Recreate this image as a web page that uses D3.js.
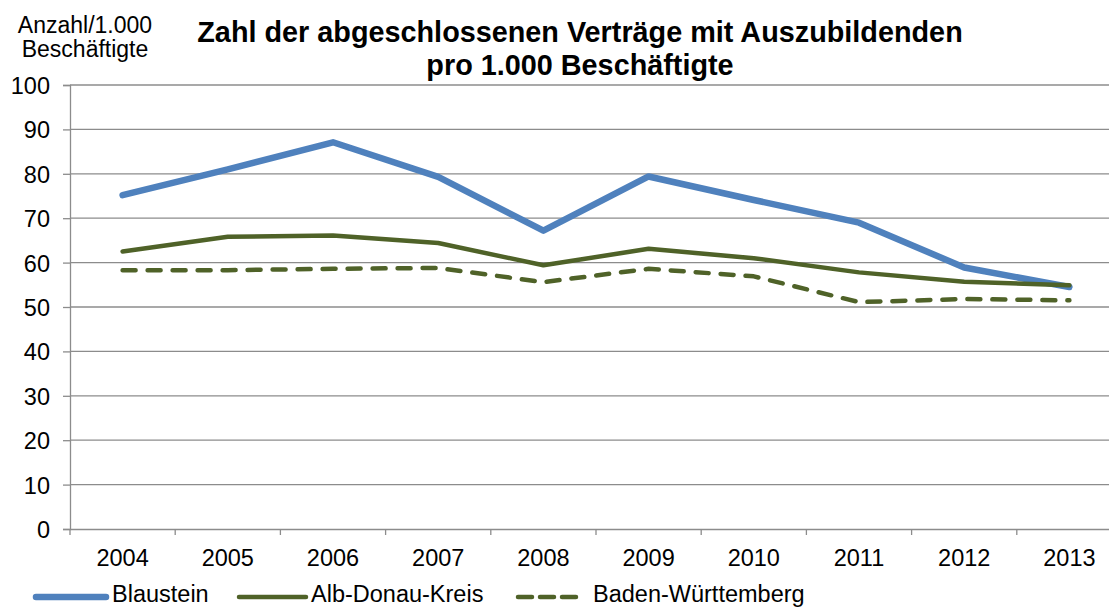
<!DOCTYPE html>
<html>
<head>
<meta charset="utf-8">
<script src="https://cdn.jsdelivr.net/npm/d3@7"></script>
<style>
  body { margin: 0; background: #fff; }
  text { font-family: "Liberation Sans", Arial, sans-serif; fill: #000; }
</style>
</head>
<body>
<svg id="chart" width="1109" height="608"></svg>
<script>
var years = ["2004", "2005", "2006", "2007", "2008", "2009", "2010", "2011", "2012", "2013"];
var blaustein = [75.2, 81.0, 87.1, 79.3, 67.2, 79.4, 74.1, 69.0, 58.9, 54.5];
var albDonau = [62.5, 65.8, 66.1, 64.4, 59.4, 63.1, 61.0, 57.8, 55.7, 54.9];
var badenW = [58.3, 58.3, 58.6, 58.8, 55.6, 58.6, 56.9, 51.1, 51.8, 51.5];
var yTicks = [0, 10, 20, 30, 40, 50, 60, 70, 80, 90, 100];

var series = [
  { name: "Blaustein", values: blaustein, color: "#4F81BD", width: 6.5, dash: null },
  { name: "Alb-Donau-Kreis", values: albDonau, color: "#4F6228", width: 4.5, dash: null },
  { name: "Baden-Württemberg", values: badenW, color: "#4F6228", width: 4.5, dash: "13,12" }
];

var svg = d3.select("#chart");
var margin = { top: 85, left: 70 };
var plotW = 1052, plotH = 444;

var g = svg.append("g").attr("transform", "translate(" + margin.left + "," + margin.top + ")");

var x = d3.scaleBand().domain(years).range([0, plotW]);
var y = d3.scaleLinear().domain([0, 100]).range([plotH, 0]);

// gridlines
g.append("g").selectAll("line")
  .data(yTicks.filter(function(d) { return d > 0; }))
  .enter().append("line")
  .attr("x1", 0).attr("x2", plotW)
  .attr("y1", function(d) { return y(d); })
  .attr("y2", function(d) { return y(d); })
  .attr("stroke", "#8c8c8c").attr("stroke-width", 1.3);

// y axis
var yAxis = g.append("g").call(d3.axisLeft(y).tickValues(yTicks).tickSize(7).tickPadding(13));
yAxis.select(".domain").attr("stroke", "#8c8c8c").attr("stroke-width", 1.3);
yAxis.selectAll(".tick line").attr("stroke", "#8c8c8c").attr("stroke-width", 1.3);
yAxis.selectAll("text").style("font-size", "23.5px").attr("dy", "0.36em")
  .style("font-family", "Liberation Sans, Arial, sans-serif").attr("fill", "#000");

// x axis
var xAxis = g.append("g").attr("transform", "translate(0," + plotH + ")")
  .call(d3.axisBottom(x).tickSize(0).tickPadding(20));
xAxis.select(".domain").attr("stroke", "#8c8c8c").attr("stroke-width", 1.3);
xAxis.selectAll("text").style("font-size", "23.5px")
  .style("font-family", "Liberation Sans, Arial, sans-serif").attr("fill", "#000");
xAxis.append("g").selectAll("line")
  .data(years)
  .enter().append("line")
  .attr("x1", function(d) { return x(d); })
  .attr("x2", function(d) { return x(d); })
  .attr("y1", 0).attr("y2", 6)
  .attr("stroke", "#8c8c8c").attr("stroke-width", 1.3);

// lines
var line = d3.line()
  .x(function(d, i) { return x(years[i]) + x.bandwidth() / 2; })
  .y(function(d) { return y(d); });

series.forEach(function(s) {
  g.append("path")
    .datum(s.values)
    .attr("d", line)
    .attr("fill", "none")
    .attr("stroke", s.color)
    .attr("stroke-width", s.width)
    .attr("stroke-linejoin", "round")
    .attr("stroke-linecap", "round")
    .attr("stroke-dasharray", s.dash);
});

// titles
svg.append("text").attr("x", 580).attr("y", 42).attr("text-anchor", "middle")
  .style("font-size", "28.8px").style("font-weight", "bold")
  .text("Zahl der abgeschlossenen Verträge mit Auszubildenden");
svg.append("text").attr("x", 580).attr("y", 75).attr("text-anchor", "middle")
  .style("font-size", "28.8px").style("font-weight", "bold")
  .text("pro 1.000 Beschäftigte");

svg.append("text").attr("x", 85).attr("y", 33).attr("text-anchor", "middle")
  .style("font-size", "23px").text("Anzahl/1.000");
svg.append("text").attr("x", 85).attr("y", 57).attr("text-anchor", "middle")
  .style("font-size", "23px").text("Beschäftigte");

// legend
var legendPos = [
  { x1: 36, x2: 106, tx: 112 },
  { x1: 239, x2: 306, tx: 311 },
  { x1: 518, x2: 581, tx: 593 }
];
series.forEach(function(s, i) {
  var p = legendPos[i];
  svg.append("line")
    .attr("x1", p.x1).attr("x2", p.x2).attr("y1", 597).attr("y2", 597)
    .attr("stroke", s.color).attr("stroke-width", s.width)
    .attr("stroke-linecap", "round")
    .attr("stroke-dasharray", s.dash ? "14,8" : null);
  svg.append("text").attr("x", p.tx).attr("y", 602)
    .style("font-size", "23.5px").text(s.name);
});
</script>
</body>
</html>
